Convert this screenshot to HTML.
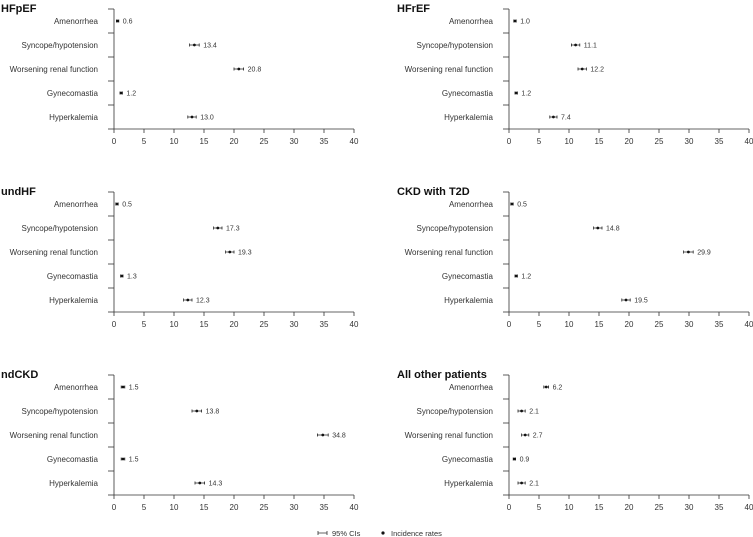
<!DOCTYPE html>
<html><head><meta charset="utf-8">
<style>
body{margin:0;background:#fff;width:753px;height:537px;overflow:hidden;font-family:"Liberation Sans",sans-serif}
svg{display:block}
</style></head>
<body>
<svg id="c" width="753" height="537" xmlns="http://www.w3.org/2000/svg"></svg>
<script>
const categories=["Amenorrhea","Syncope/hypotension","Worsening renal function","Gynecomastia","Hyperkalemia"];
const panelTitles=["HFpEF","HFrEF","undHF","CKD with T2D","ndCKD","All other patients"];
const rates=[[0.6,13.4,20.8,1.2,13.0],[1.0,11.1,12.2,1.2,7.4],[0.5,17.3,19.3,1.3,12.3],[0.5,14.8,29.9,1.2,19.5],[1.5,13.8,34.8,1.5,14.3],[6.2,2.1,2.7,0.9,2.1]];
const ciLow=[[0.4,12.6,20.0,1.0,12.3],[0.8,10.4,11.5,1.0,6.8],[0.3,16.6,18.6,1.1,11.6],[0.3,14.1,29.1,1.0,18.8],[1.2,13.0,33.9,1.2,13.5],[5.8,1.5,2.1,0.7,1.5]];
const ciHigh=[[0.8,14.2,21.6,1.4,13.7],[1.2,11.8,12.9,1.4,8.0],[0.7,18.0,20.0,1.5,13.0],[0.7,15.5,30.7,1.4,20.2],[1.8,14.6,35.7,1.8,15.1],[6.6,2.7,3.3,1.1,2.7]];
const ticks=[0,5,10,15,20,25,30,35,40];
const NS="http://www.w3.org/2000/svg";
const svg=document.getElementById('c');
function mk(t,a,p){const e=document.createElementNS(NS,t);for(const k in a)e.setAttribute(k,a[k]);(p||svg).appendChild(e);return e;}
panelTitles.forEach((title,pi)=>{
  const col=pi%2,row=Math.floor(pi/2);
  const ax0=col?509:114,top=9+183*row,bot=top+120;
  const xs=v=>ax0+v*6;
  const ys=i=>top+12+i*24;
  const g=mk('g',{});
  
  
  const t=mk('text',{x:col?397:1,y:top+3,'font-size':11,'font-weight':'bold',fill:'#111'},g);t.textContent=title;
  
  const ya=mk('line',{x1:ax0,y1:top,x2:ax0,y2:bot,stroke:'#333','stroke-width':0.8},g);
  
  for(let i=0;i<=5;i++)mk('line',{x1:ax0-6,y1:top+i*24,x2:ax0,y2:top+i*24,stroke:'#333','stroke-width':0.8},g);
  const xa=mk('line',{x1:ax0,y1:bot,x2:xs(40),y2:bot,stroke:'#333','stroke-width':0.8},g);
  
  ticks.forEach(v=>{
    mk('line',{x1:xs(v),y1:bot,x2:xs(v),y2:bot+4,stroke:'#333','stroke-width':0.8},g);
    const tl=mk('text',{x:xs(v),y:bot+15,'font-size':8,'text-anchor':'middle',fill:'#333'},g);tl.textContent=v;
    
  });
  categories.forEach((c,i)=>{
    const y=ys(i);
    const cl=mk('text',{x:ax0-16,y:y+3,'font-size':8,'text-anchor':'end',fill:'#333'},g);cl.textContent=c;
    
    const ci=mk('path',{d:`M${xs(ciLow[pi][i])},${y-1.5}v3M${xs(ciLow[pi][i])},${y}H${xs(ciHigh[pi][i])}M${xs(ciHigh[pi][i])},${y-1.5}v3`,stroke:'#222','stroke-width':0.8,fill:'none'},g);
    
    const d=mk('circle',{cx:xs(rates[pi][i]),cy:y,r:1.4,fill:'#111'},g);
    
    const vl=mk('text',{x:xs(ciHigh[pi][i])+4,y:y+2.5,'font-size':7,fill:'#333'},g);vl.textContent=rates[pi][i].toFixed(1);
    
  });
});
const lg=mk('g',{});

mk('path',{d:'M318,531v4M318,533H327M327,531v4',stroke:'#333','stroke-width':0.8,fill:'none'},lg);
const l1=mk('text',{x:332,y:536,'font-size':7.5,fill:'#333'},lg);l1.textContent='95% CIs';

mk('circle',{cx:383,cy:533,r:1.6,fill:'#111'},lg);
const l2=mk('text',{x:391,y:536,'font-size':7.5,fill:'#333'},lg);l2.textContent='Incidence rates';

</script>
</body></html>
